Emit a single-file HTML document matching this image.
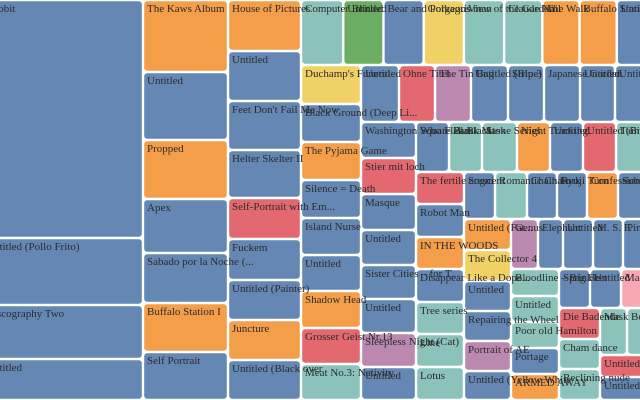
<!DOCTYPE html>
<html><head><meta charset="utf-8"><style>
html,body{margin:0;padding:0;background:#fff;overflow:hidden}
svg{display:block}
text{font-family:"Liberation Serif",serif;font-size:11px;fill:#2b2b2b}
</style></head><body>
<svg id="chart" width="640" height="400" viewBox="0 0 640 400"></svg>
<script>
// Colour keys
const palette = {b:"#6488b3",o:"#f59e4a",t:"#8bc3bb",g:"#6bae63",y:"#f1d166",r:"#e4686f",p:"#bb88b0",k:"#f7a8b3"};
// Strip frames (layout only): x0,x1,y0,y1,direction
const stripFrames = [
 [-18,143,0,400,"v"],[143,228,0,400,"v"],[228,301,0,400,"v"],[301,662,0,65,"h"],
 [301,361,65,400,"v"],[361,662,65,122,"h"],[361,416,122,400,"v"],[416,662,122,172,"h"],
 [416,464,172,400,"v"],[464,662,172,219,"h"],[464,511,219,400,"v"],[511,662,219,269,"h"],
 [511,559,269,400,"v"],[559,662,269,308,"h"],[559,600,308,400,"v"],[600,662,308,355,"h"],[600,662,355,400,"v"]
];
// Data per strip: names, values, colour categories
const names = [
 ["Rabbit","Untitled (Pollo Frito)","Discography Two","Untitled"],
 ["The Kaws Album","Untitled","Propped","Apex","Sabado por la Noche (...","Buffalo Station I","Self Portrait"],
 ["House of Pictures","Untitled","Feet Don't Fail Me Now","Helter Skelter II","Self-Portrait with Em...","Fuckem","Untitled (Painter)","Juncture","Untitled (Black over"],
 ["Computer Blinded","Untitled","Bear and Polkagris","Gorgeous man","View of the Garden","Claude Nail","The Walk","Buffalo Station II","Untitled"],
 ["Duchamp's Funeral","Black Ground (Deep Li...","The Pyjama Game","Silence = Death","Island Nurse","Untitled","Shadow Head","Grosser Geist Nr.13","Meat No.3: Nativity"],
 ["Untitled","Ohne Titel","The Tin Bag","Untitled (Blue)","Strip 3","Japanese Garden","Untitled","Untitled (Yellow)"],
 ["Washington Square Park","Stier mit loch","Masque","Untitled","Sister Cities – for T...","Untitled","Sleepless Night (Cat)","Untitled"],
 ["Who Flak Black","Black Mask","Stone Series","Night Tracking","Untitled","Untitled (Bird)","Taihu"],
 ["The fertile crescent","Robot Man","IN THE WOODS","Disappear Like a Dope...","Tree series","Line","Lotus"],
 ["Sogni","Romantic Chain","Chain Fork","Ryuji Turn","Confessions","Sub"],
 ["Untitled (Fat...","The Collector 4","Untitled","Repairing the Wheel","Portrait of AE","Untitled (Yellow White"],
 ["Genus","Elephant","Untitled","M. S. F.","Pink"],
 ["Bloodline – Big Feet","Untitled","Poor old Hamilton","Portage","ARMED AWAY"],
 ["Sprinkle","Untitled","Magic"],
 ["Die Badende","Cham dance","Reclining nude"],
 ["Mask","Bo"],
 ["Untitled, I...","Untitled"]
];
const values = [
 [238,67,54,41],[72,68,59,54,50,49,48],[51,50,49,48,41,41,40,40,40],
 [42,40,40,40,40,38,37,37,45],[39,38,38,38,37,36,37,36,36],[38,36,36,37,36,36,35,47],
 [36,36,36,35,34,34,34,33],[33,33,35,33,33,33,46],[32,33,32,33,32,33,33],
 [31,32,30,30,31,44],[31,31,30,30,30,29],[27,25,30,30,39],[27,26,26,26,26],
 [31,31,41],[31,30,31],[27,35],[22,23]
];
const colors = [
 ["b","b","b","b"],["o","b","o","b","b","o","b"],["o","b","b","b","r","b","b","o","b"],
 ["t","g","b","y","t","t","o","o","b"],["y","b","o","b","b","b","o","r","t"],
 ["b","r","p","b","b","b","b","b"],["b","r","b","b","b","b","p","b"],
 ["b","t","t","o","b","r","t"],["r","b","o","b","t","t","t"],["b","t","b","b","o","b"],
 ["o","y","b","b","p","b"],["p","b","b","b","b"],["t","t","t","b","o"],["b","b","k"],
 ["r","t","t"],["t","t"],["r","b"]
];
const svg = document.getElementById('chart');
const NS = "http://www.w3.org/2000/svg";
const rectLayer = document.createElementNS(NS,"g");


const textLayer = document.createElementNS(NS,"g");


svg.appendChild(rectLayer); svg.appendChild(textLayer);
stripFrames.forEach((f,si)=>{
  const [x0,x1,y0,y1,dir] = f;
  const vals = values[si];
  const total = vals.reduce((a,b)=>a+b,0);
  let pos = dir==="v"?y0:x0;
  const span = dir==="v"?(y1-y0):(x1-x0);
  vals.forEach((v,i)=>{
    const len = v/total*span;
    let rx,ry,rw,rh;
    if(dir==="v"){rx=x0;ry=pos;rw=x1-x0;rh=len;} else {rx=pos;ry=y0;rw=len;rh=y1-y0;}
    pos += len;
    const r = document.createElementNS(NS,"rect");
    r.setAttribute('x',rx+1.2); r.setAttribute('y',ry+1.2);
    r.setAttribute('width',Math.max(0,rw-2.4)); r.setAttribute('height',Math.max(0,rh-2.4));
    r.setAttribute('rx',3); r.setAttribute('fill',palette[colors[si][i]]);
    
    
    rectLayer.appendChild(r);
    const t = document.createElementNS(NS,"text");
    t.setAttribute('x',rx+4); t.setAttribute('y',ry+12);
    t.textContent = names[si][i];
    
    
    textLayer.appendChild(t);
  });
});
</script>
</body></html>
